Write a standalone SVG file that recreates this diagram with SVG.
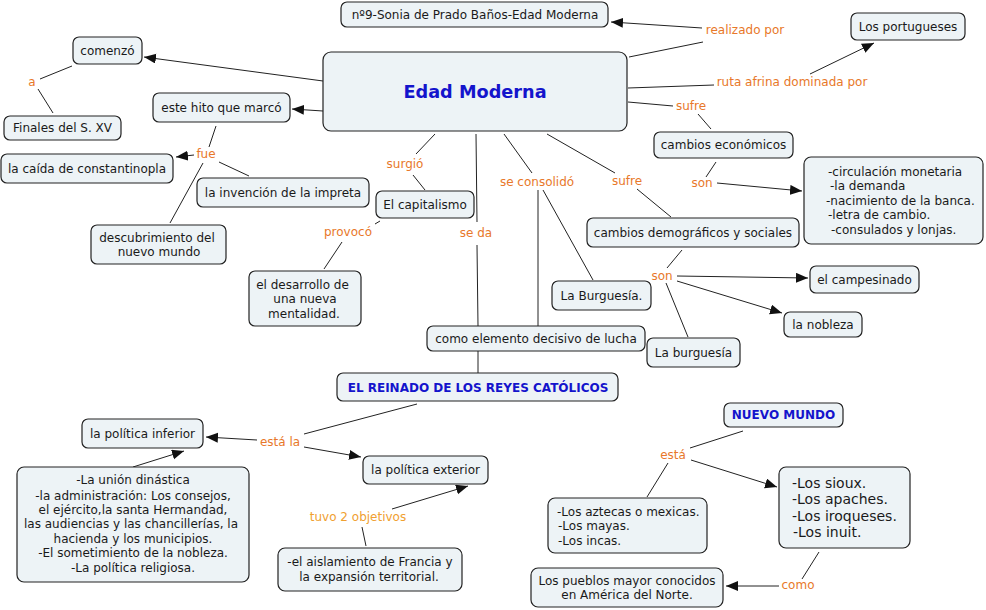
<svg xmlns="http://www.w3.org/2000/svg" width="986" height="610" viewBox="0 0 986 610">
<defs>
<style>
.nd rect{fill:#EDF3F6;stroke:#222;stroke-width:1.2}
.nd text,.t{font-family:"DejaVu Sans",Verdana,sans-serif;font-size:12px;fill:#1a1a1a}
.c{text-anchor:middle}
.nd text.b{font-weight:bold;fill:#1414CC}
.lk line{stroke:#222;stroke-width:1}
.lbl{font-family:"DejaVu Sans",Verdana,sans-serif;font-size:12px;fill:#E8782A;text-anchor:middle}
.lbl2{fill:#F0A030}
</style>
<marker id="ar" markerUnits="userSpaceOnUse" markerWidth="13" markerHeight="11" refX="12" refY="5" orient="auto">
<path d="M0,0 L12,5 L0,10 z" fill="#111"/>
</marker>
</defs>
<rect width="986" height="610" fill="#fff"/>

<g id="connectors" class="lk">
<line x1="323" y1="81" x2="144" y2="57" marker-end="url(#ar)"/>
<line x1="72" y1="66" x2="40" y2="79"/>
<line x1="38" y1="89" x2="53" y2="113"/>
<line x1="323" y1="111" x2="292" y2="109" marker-end="url(#ar)"/>
<line x1="216" y1="126" x2="209" y2="147"/>
<line x1="194" y1="155" x2="176" y2="157" marker-end="url(#ar)"/>
<line x1="219" y1="162" x2="249" y2="176"/>
<line x1="203" y1="163" x2="170" y2="223"/>
<line x1="435" y1="134" x2="416" y2="154"/>
<line x1="413" y1="175" x2="425" y2="190"/>
<line x1="380" y1="221" x2="375" y2="224"/>
<line x1="342" y1="242" x2="324" y2="269"/>
<line x1="476" y1="134" x2="477" y2="222"/>
<line x1="477" y1="245" x2="478" y2="326"/>
<line x1="478" y1="351" x2="478" y2="373"/>
<line x1="504" y1="134" x2="532" y2="173"/>
<line x1="538" y1="190" x2="538" y2="326"/>
<line x1="543" y1="190" x2="593" y2="280"/>
<line x1="547" y1="134" x2="615" y2="173"/>
<line x1="637" y1="189" x2="671" y2="217"/>
<line x1="629" y1="57" x2="703" y2="42"/>
<line x1="702" y1="28" x2="611" y2="22" marker-end="url(#ar)"/>
<line x1="628" y1="88" x2="714" y2="85"/>
<line x1="810" y1="74" x2="874" y2="43" marker-end="url(#ar)"/>
<line x1="628" y1="102" x2="673" y2="106"/>
<line x1="698" y1="114" x2="711" y2="129"/>
<line x1="716" y1="162" x2="706" y2="177"/>
<line x1="717" y1="183" x2="802" y2="191" marker-end="url(#ar)"/>
<line x1="682" y1="250" x2="667" y2="268"/>
<line x1="677" y1="276" x2="808" y2="278" marker-end="url(#ar)"/>
<line x1="677" y1="281" x2="782" y2="313" marker-end="url(#ar)"/>
<line x1="666" y1="283" x2="688" y2="337"/>
<line x1="417" y1="404" x2="304" y2="434"/>
<line x1="257" y1="440" x2="206" y2="437" marker-end="url(#ar)"/>
<line x1="304" y1="447" x2="361" y2="457" marker-end="url(#ar)"/>
<line x1="133" y1="467" x2="184" y2="451" marker-end="url(#ar)"/>
<line x1="366" y1="546" x2="362" y2="527"/>
<line x1="392" y1="509" x2="468" y2="486" marker-end="url(#ar)"/>
<line x1="743" y1="431" x2="690" y2="448"/>
<line x1="668" y1="463" x2="647" y2="497"/>
<line x1="691" y1="460" x2="777" y2="487" marker-end="url(#ar)"/>
<line x1="819" y1="552" x2="802" y2="579"/>
<line x1="779" y1="586" x2="726" y2="586" marker-end="url(#ar)"/>
</g>

<g id="labels">
<text class="lbl" x="32" y="86">a</text>
<text class="lbl" x="206" y="158">fue</text>
<text class="lbl" x="745" y="34">realizado por</text>
<text class="lbl" x="792" y="86">ruta afrina dominada por</text>
<text class="lbl" x="691" y="110">sufre</text>
<text class="lbl" x="405" y="168">surgió</text>
<text class="lbl" x="537" y="186">se consolidó</text>
<text class="lbl" x="627" y="185">sufre</text>
<text class="lbl" x="476" y="237">se da</text>
<text class="lbl" x="348" y="236">provocó</text>
<text class="lbl" x="702" y="187">son</text>
<text class="lbl" x="662" y="280">son</text>
<text class="lbl" x="280" y="446">está la</text>
<text class="lbl lbl2" x="358" y="521">tuvo 2 objetivos</text>
<text class="lbl" x="673" y="459">está</text>
<text class="lbl" x="798" y="589">como</text>
</g>

<g id="n-autor" class="nd"><rect x="341" y="2" width="267" height="25" rx="6"/><text class="c" x="475" y="19">nº9-Sonia de Prado Baños-Edad Moderna</text></g>
<g id="n-edad" class="nd"><rect x="323" y="52" width="304" height="79" rx="8"/><text class="c b" x="475" y="98" style="font-size:17.7px">Edad Moderna</text></g>
<g id="n-portugueses" class="nd"><rect x="851" y="13" width="114" height="27" rx="6"/><text class="c" x="908" y="30.5">Los portugueses</text></g>
<g id="n-comenzo" class="nd"><rect x="73" y="37" width="69" height="27" rx="6"/><text class="c" x="107.5" y="54.5">comenzó</text></g>
<g id="n-finales" class="nd"><rect x="4" y="116" width="117" height="24" rx="6"/><text class="c" x="62.5" y="132">Finales del S. XV</text></g>
<g id="n-hito" class="nd"><rect x="153" y="93" width="137" height="29" rx="6"/><text class="c" x="221.5" y="111.5">este hito que marcó</text></g>
<g id="n-caida" class="nd"><rect x="1" y="154" width="172" height="29" rx="6"/><text class="c" x="87" y="172.5">la caída de constantinopla</text></g>
<g id="n-invencion" class="nd"><rect x="197" y="178" width="172" height="29" rx="6"/><text class="c" x="283" y="196.5">la invención de la impreta</text></g>
<g id="n-capitalismo" class="nd"><rect x="376" y="191" width="98" height="27" rx="6"/><text class="c" x="425" y="208.5">El capitalismo</text></g>
<g id="n-descubrimiento" class="nd"><rect x="91" y="225" width="135" height="39" rx="6"/><text class="c" x="157" y="242">descubrimiento del</text><text class="c" x="159" y="256">nuevo mundo</text></g>
<g id="n-desarrollo" class="nd"><rect x="249" y="271" width="112" height="55" rx="6"/><text class="c" x="302.5" y="289">el desarrollo de</text><text class="c" x="305" y="303">una nueva</text><text class="c" x="304" y="318">mentalidad.</text></g>
<g id="n-elemento" class="nd"><rect x="427" y="326" width="218" height="25" rx="6"/><text class="c" x="536" y="342.5">como elemento decisivo de lucha</text></g>
<g id="n-reinado" class="nd"><rect x="337" y="373" width="281" height="28" rx="6"/><text class="c b" x="478" y="391.5">EL REINADO DE LOS REYES CATÓLICOS</text></g>
<g id="n-burguesia1" class="nd"><rect x="552" y="281" width="99" height="29" rx="6"/><text class="c" x="601.5" y="299.5">La Burguesía.</text></g>
<g id="n-ceconomicos" class="nd"><rect x="654" y="132" width="139" height="26" rx="6"/><text class="c" x="723.5" y="149">cambios económicos</text></g>
<g id="n-circulacion" class="nd"><rect x="804" y="157" width="179" height="87" rx="7"/>
<text x="828" y="176">-circulación monetaria</text>
<text x="830" y="190">-la demanda</text>
<text x="826" y="205">-nacimiento de la banca.</text>
<text x="828" y="219">-letra de cambio.</text>
<text x="831" y="234">-consulados y lonjas.</text></g>
<g id="n-cdemograficos" class="nd"><rect x="587" y="218" width="212" height="29" rx="6"/><text class="c" x="693" y="236.5">cambios demográficos y sociales</text></g>
<g id="n-campesinado" class="nd"><rect x="810" y="266" width="109" height="27" rx="6"/><text class="c" x="864.5" y="283.5">el campesinado</text></g>
<g id="n-nobleza" class="nd"><rect x="784" y="312" width="78" height="25" rx="6"/><text class="c" x="823" y="328.5">la nobleza</text></g>
<g id="n-burguesia2" class="nd"><rect x="647" y="338" width="93" height="29" rx="6"/><text class="c" x="693.5" y="356.5">La burguesía</text></g>
<g id="n-pinferior" class="nd"><rect x="82" y="419" width="121" height="29" rx="6"/><text class="c" x="142.5" y="437.5">la política inferior</text></g>
<g id="n-lista" class="nd"><rect x="17" y="467" width="232" height="115" rx="7"/>
<text class="c" x="133" y="484">-La unión dinástica</text>
<text class="c" x="133" y="500">-la administración: Los consejos,</text>
<text class="c" x="133" y="514">el ejército,la santa Hermandad,</text>
<text class="c" x="131" y="528">las audiencias y las chancillerías, la</text>
<text class="c" x="133" y="543">hacienda y los municipios.</text>
<text class="c" x="133" y="557">-El sometimiento de la nobleza.</text>
<text class="c" x="133" y="572">-La política religiosa.</text></g>
<g id="n-pexterior" class="nd"><rect x="363" y="456" width="125" height="28" rx="6"/><text class="c" x="425.5" y="474">la política exterior</text></g>
<g id="n-aislamiento" class="nd"><rect x="278" y="548" width="184" height="43" rx="7"/><text class="c" x="370" y="566">-el aislamiento de Francia y</text><text class="c" x="369" y="581">la expansión territorial.</text></g>
<g id="n-nuevomundo" class="nd"><rect x="724" y="403" width="119" height="24" rx="6"/><text class="c b" x="783.5" y="419">NUEVO MUNDO</text></g>
<g id="n-aztecas" class="nd"><rect x="548" y="498" width="159" height="55" rx="7"/>
<text x="557" y="516">-Los aztecas o mexicas.</text>
<text x="558" y="530">-Los mayas.</text>
<text x="558" y="545">-Los incas.</text></g>
<g id="n-sioux" class="nd"><rect x="779" y="467" width="131" height="81" rx="7"/>
<text x="792" y="488" style="font-size:14px">-Los sioux.</text>
<text x="792" y="504" style="font-size:14px">-Los apaches.</text>
<text x="792" y="521" style="font-size:14px">-Los iroqueses.</text>
<text x="793" y="537" style="font-size:14px">-Los inuit.</text></g>
<g id="n-pueblos" class="nd"><rect x="531" y="568" width="192" height="39" rx="7"/><text class="c" x="627" y="585">Los pueblos mayor conocidos</text><text class="c" x="627" y="599">en América del Norte.</text></g>
</svg>
